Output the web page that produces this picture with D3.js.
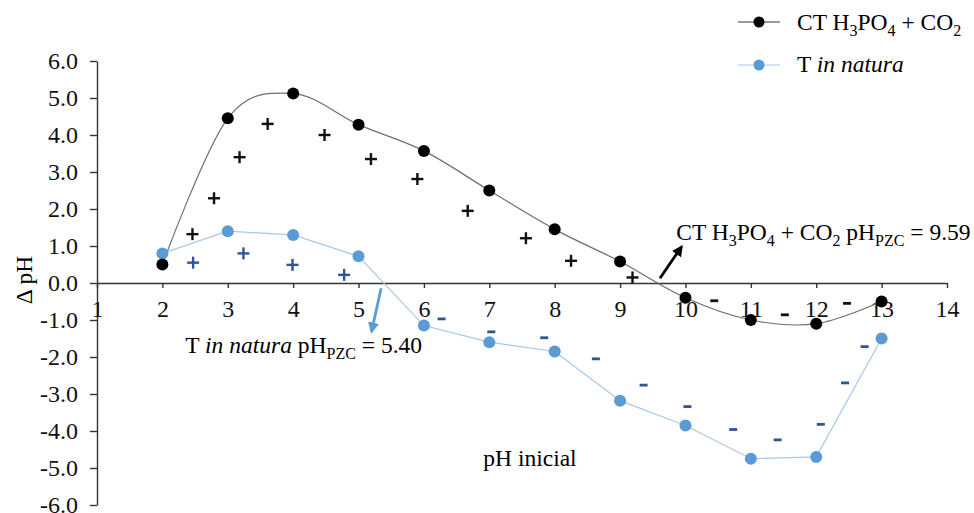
<!DOCTYPE html>
<html>
<head>
    <meta charset="utf-8">
    <title></title>
    <script src='https://d3js.org/d3.v7.min.js'></script>
    <style>
      body {margin: 0; background: white;}
      svg text {font-family: "Liberation Serif", "DejaVu Serif", serif;}
    </style>
</head>
<body>
<svg width=974 height=513 font-family="Liberation Serif"></svg>
<script>
// data
var phInicial = [2, 3, 4, 5, 6, 7, 8, 9, 10, 11, 12, 13];
var ctValues = [0.50, 4.45, 5.12, 4.28, 3.57, 2.50, 1.45, 0.58, -0.40, -1.00, -1.10, -0.50];
var tValues = [0.80, 1.40, 1.30, 0.72, -1.15, -1.60, -1.85, -3.18, -3.85, -4.75, -4.70, -1.50];
var xTicks = [1, 2, 3, 4, 5, 6, 7, 8, 9, 10, 11, 12, 13, 14];
var yTicks = [-6, -5, -4, -3, -2, -1, 0, 1, 2, 3, 4, 5, 6];

// charge signs scattered in the plot, [pH, delta pH]
var plusCT = [[2.46,1.32],[2.79,2.29],[3.18,3.40],[3.61,4.30],[4.48,4.00],[5.19,3.35],[5.90,2.81],[6.67,1.95],[7.56,1.21],[8.25,0.60],[9.19,0.15]];
var plusT = [[2.47,0.55],[3.24,0.80],[3.99,0.49],[4.78,0.22]];
var minusCT = [[10.44,-0.48],[11.52,-0.86],[12.47,-0.55]];
var minusT = [[6.27,-0.97],[7.03,-1.32],[7.84,-1.48],[8.63,-2.05],[9.36,-2.76],[10.03,-3.34],[10.73,-3.96],[11.41,-4.24],[12.07,-3.82],[12.44,-2.70],[12.74,-1.72]];

// pH_PZC arrows: [tail, head]
var arrowCT = [[9.61,0.13],[9.94,0.98]];
var arrowT = [[5.345,-0.14],[5.20,-1.31]];

var x = d3.scaleLinear().domain([1,14]).range([97,947]);
var y = d3.scaleLinear().domain([-6,6]).range([505,61]);
var svg = d3.select("svg");
var black = "#000000", lineGrey = "#6e6e6e", blue = "#5b9bd5", lightBlue = "#a9c8e8", darkBlue = "#2f5597";
var serif = "Liberation Serif";

var fmt = function(d) { return d3.format(".1f")(d).replace("\u2212","-"); };

//y axis
var yAxis = svg.append("g")
  .attr("transform","translate("+x(1)+",0)")
  .call(d3.axisLeft(y).tickValues(yTicks).tickFormat(fmt).tickSize(7).tickSizeOuter(0).tickPadding(12));
//x axis at delta pH = 0
var xAxis = svg.append("g")
  .attr("transform","translate(0,"+y(0)+")")
  .call(d3.axisBottom(x).tickValues(xTicks).tickFormat(d3.format("d")).tickSize(5).tickSizeOuter(0).tickPadding(12));
[yAxis, xAxis].forEach(function(a) {
  a.attr("font-family",serif).attr("font-size",24);
  a.selectAll("path, line").attr("stroke","#333").attr("stroke-width",1.4);
  a.selectAll("text").attr("fill","#111");
});

// axis titles
svg.append("text")
  .attr("transform","translate(32,280) rotate(-90)")
  .style("text-anchor","middle").style("font-size","23.5px")
  .text("Δ pH");
svg.append("text")
  .attr("x", 530).attr("y", 466)
  .style("text-anchor","middle").style("font-size","23.5px")
  .text("pH inicial");

// lines
var ctLine = d3.line().x(function(d,i){return x(phInicial[i]);}).y(function(d){return y(d);}).curve(d3.curveCardinal.tension(0));
var tLine = d3.line().x(function(d,i){return x(phInicial[i]);}).y(function(d){return y(d);});
svg.append("path").datum(ctValues).attr("d",ctLine).attr("fill","none").attr("stroke",lineGrey).attr("stroke-width",1.2);
svg.append("path").datum(tValues).attr("d",tLine).attr("fill","none").attr("stroke",lightBlue).attr("stroke-width",1.2);

// plus and minus signs
function plus(data, color) {
  var g = svg.append("g").attr("stroke",color).attr("stroke-width",2.4);
  data.forEach(function(d) {
    g.append("line").attr("x1",x(d[0])-6).attr("x2",x(d[0])+6).attr("y1",y(d[1])).attr("y2",y(d[1]));
    g.append("line").attr("x1",x(d[0])).attr("x2",x(d[0])).attr("y1",y(d[1])-6).attr("y2",y(d[1])+6);
  });
}
function minus(data, color) {
  svg.append("g").attr("stroke",color).attr("stroke-width",2.8)
   .selectAll("line").data(data).enter().append("line")
   .attr("x1",function(d){return x(d[0])-4;}).attr("x2",function(d){return x(d[0])+4;})
   .attr("y1",function(d){return y(d[1]);}).attr("y2",function(d){return y(d[1]);});
}
plus(plusCT, "#111");
plus(plusT, darkBlue);
minus(minusCT, "#111");
minus(minusT, darkBlue);

// markers
svg.append("g").selectAll("circle").data(tValues).enter().append("circle")
  .attr("cx",function(d,i){return x(phInicial[i]);}).attr("cy",function(d){return y(d);})
  .attr("r",6).attr("fill",blue);
svg.append("g").selectAll("circle").data(ctValues).enter().append("circle")
  .attr("cx",function(d,i){return x(phInicial[i]);}).attr("cy",function(d){return y(d);})
  .attr("r",6).attr("fill",black);

// arrows
var defs = svg.append("defs");
function arrow(id, color, pts) {
  defs.append("marker").attr("id",id).attr("viewBox","0 0 10 10").attr("refX",8).attr("refY",5)
    .attr("markerWidth",4).attr("markerHeight",4).attr("orient","auto")
    .append("path").attr("d","M0,0 L10,5 L0,10 z").attr("fill",color);
  svg.append("line")
    .attr("x1",x(pts[0][0])).attr("y1",y(pts[0][1]))
    .attr("x2",x(pts[1][0])).attr("y2",y(pts[1][1]))
    .attr("stroke",color).attr("stroke-width",2.8).attr("marker-end","url(#"+id+")");
}
arrow("arrCT", black, arrowCT);
arrow("arrT", blue, arrowT);

// text with subscript pieces: [string, isSub, isItalic]
function richText(xp, yp, parts) {
  var t = svg.append("text").attr("x",xp).attr("y",yp).attr("font-family",serif).style("font-size","23.5px");
  parts.forEach(function(p, i) {
    var s = t.append("tspan").text(p[0]);
    if (p[1]) s.attr("dy",6).style("font-size","16px");
    else if (i > 0 && parts[i-1][1]) s.attr("dy",-6);
    if (p[2]) s.style("font-style","italic");
  });
  return t;
}
richText(x(9.86), y(1.16), [["CT H"],["3",1],["PO"],["4",1],[" + CO"],["2",1],[" pH"],["PZC",1],[" = 9.59"]]);
richText(x(2.35), y(-1.89), [["T "],["in natura",0,1],[" pH"],["PZC",1],[" = 5.40"]]);

// legend
svg.append("line").attr("x1",738).attr("x2",780).attr("y1",22).attr("y2",22).attr("stroke","#333").attr("stroke-width",1.2);
svg.append("circle").attr("cx",759).attr("cy",22).attr("r",5.5).attr("fill",black);
richText(797, 30, [["CT H"],["3",1],["PO"],["4",1],[" + CO"],["2",1]]);

svg.append("line").attr("x1",738).attr("x2",780).attr("y1",65).attr("y2",65).attr("stroke",lightBlue).attr("stroke-width",1.2);
svg.append("circle").attr("cx",759).attr("cy",65).attr("r",5.5).attr("fill",blue);
richText(797, 72, [["T "],["in natura",0,1]]);
</script>
</body>
</html>
